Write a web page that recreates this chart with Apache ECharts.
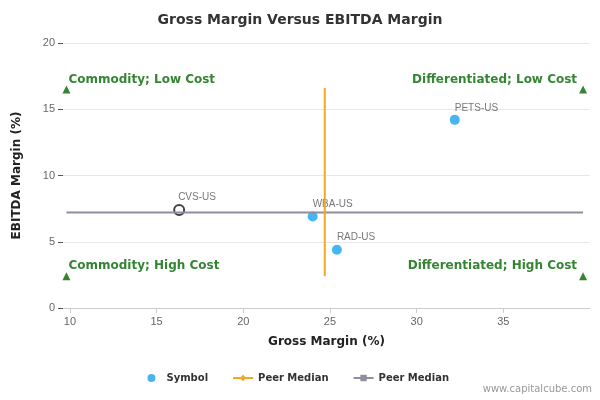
<!DOCTYPE html><html><head><meta charset="utf-8"><script src="https://cdn.jsdelivr.net/npm/echarts@6/dist/echarts.min.js"></script></head><body style="margin:0"><div id="c" style="width:600px;height:400px"></div><script>
const symbols=[["CVS-US",16.3,7.4],["WBA-US",24.0,6.9],["RAD-US",25.4,4.4],["PETS-US",32.2,14.2]];
const peerX=[[24.7,2.4],[24.7,16.6]];
const peerY=[[9.8,7.2],[39.6,7.2]];
const corners=[[9.8,16.5,"Commodity; Low Cost","left"],[39.6,16.5,"Differentiated; Low Cost","right"],[9.8,2.4,"Commodity; High Cost","left"],[39.6,2.4,"Differentiated; High Cost","right"]];
const c=echarts.init(document.getElementById('c'));
c.setOption({animation:false,
title:{text:"Gross Margin Versus EBITDA Margin",left:'center',top:8,textStyle:{fontFamily:'DejaVu Sans',fontSize:14,fontWeight:'bold',color:'#333'}},
graphic:[{type:'text',right:8,bottom:6,style:{text:'www.capitalcube.com',fill:'#999',font:'10px DejaVu Sans'}}],
legend:{bottom:12,itemGap:24,itemWidth:20,itemHeight:8,textStyle:{fontFamily:'DejaVu Sans',fontSize:10,fontWeight:'bold',color:'#333'},data:[{name:'Symbol',icon:'circle'},'Peer Median','Peer Median ']},
grid:{left:63,right:10,top:43,bottom:92},
xAxis:{type:'value',min:9.6,max:40,name:'Gross Margin (%)',nameLocation:'middle',nameGap:28,nameTextStyle:{fontFamily:'DejaVu Sans',fontWeight:'bold',fontSize:12,color:'#222'},axisLabel:{showMinLabel:false,showMaxLabel:false,color:'#666',fontSize:11},splitLine:{show:false},axisLine:{lineStyle:{color:'#ccc'}},axisTick:{lineStyle:{color:'#ccc'}}},
yAxis:{type:'value',min:0,max:20,interval:5,name:'EBITDA Margin (%)',nameLocation:'middle',nameGap:40,nameTextStyle:{fontFamily:'DejaVu Sans',fontWeight:'bold',fontSize:12,color:'#222'},axisLabel:{color:'#666',fontSize:11},axisLine:{show:false},splitLine:{lineStyle:{color:'#e6e6e6'}}},
series:[
{name:'Peer Median ',type:'line',data:peerY,symbol:'rect',symbolSize:7,showSymbol:false,lineStyle:{color:'#8e8e9e',width:2},itemStyle:{color:'#8e8e9e'}},
{name:'Peer Median',type:'line',data:peerX,symbol:'diamond',symbolSize:7,showSymbol:false,lineStyle:{color:'#f5a623',width:2},itemStyle:{color:'#f5a623'}},
{name:'Symbol',type:'scatter',symbolSize:10,itemStyle:{color:'#1aa3f0'},data:symbols.map((s,i)=>({value:[s[1],s[2]],name:s[0],itemStyle:i==0?{color:'#fff',borderColor:'#111',borderWidth:2}:undefined})),label:{show:true,position:[5,-12],formatter:p=>p.name,fontSize:10,color:'#555'}},
{type:'scatter',symbol:'triangle',symbolSize:8,itemStyle:{color:'#006600'},data:corners.map(c=>({value:[c[0],c[1]],name:c[2],label:{position:c[3]=='left'?[6,-12]:[-2,-12],align:c[3]=='left'?'left':'right'}})),label:{show:true,formatter:p=>p.name,fontFamily:'DejaVu Sans',fontSize:12,fontWeight:'bold',color:'#006600'}}
]});
</script></body></html>
